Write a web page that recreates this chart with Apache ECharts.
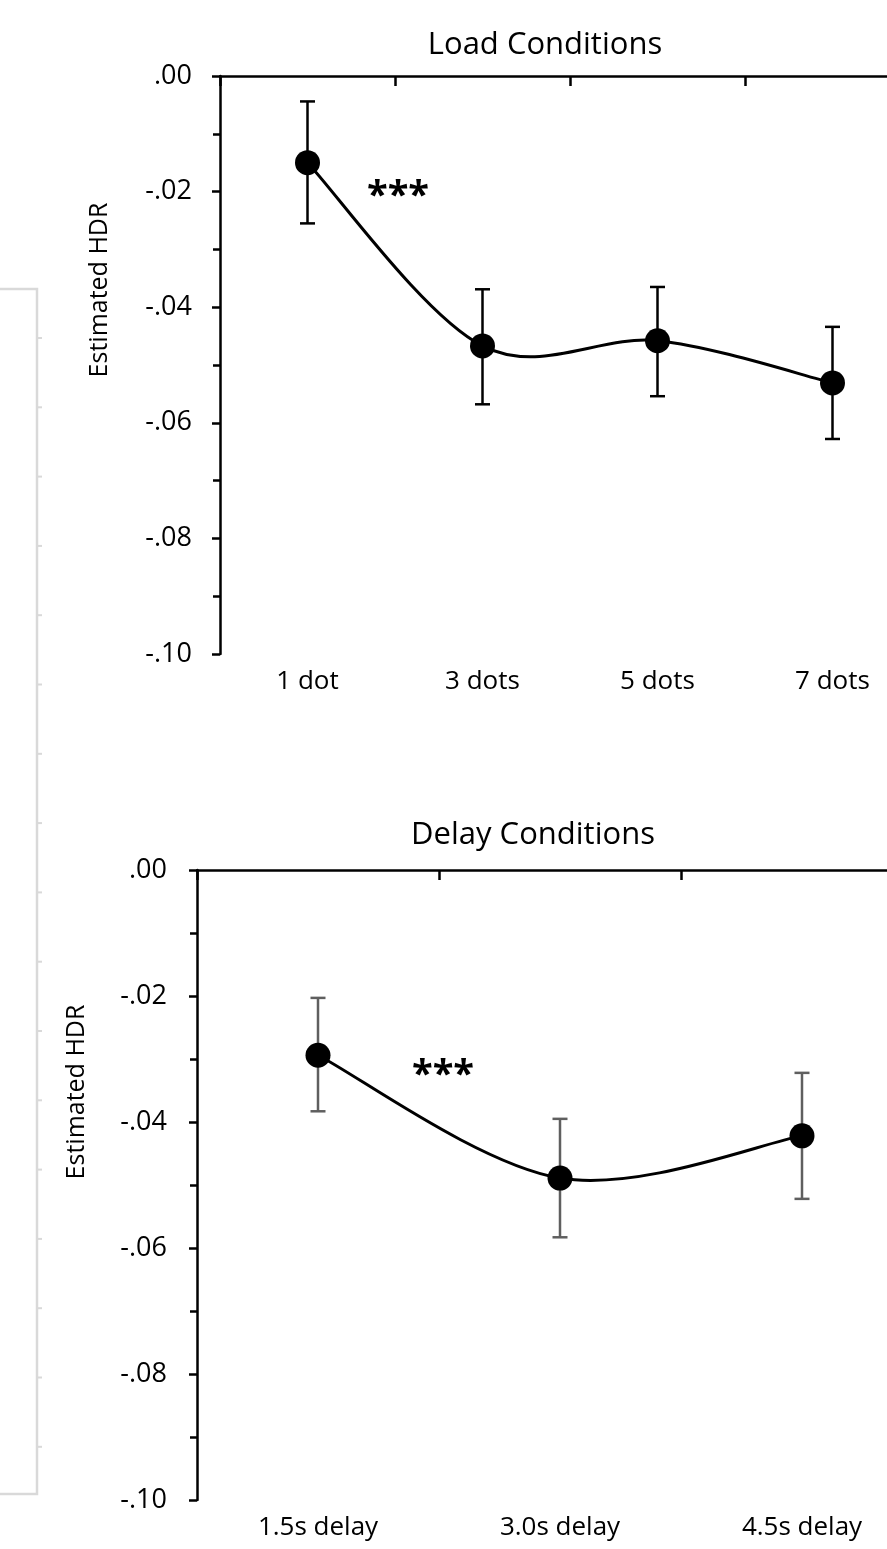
<!DOCTYPE html>
<html>
<head>
<meta charset="utf-8">
<script src="https://cdn.jsdelivr.net/npm/echarts@6/dist/echarts.min.js"></script>
<style>
  html, body { margin: 0; padding: 0; background: #fff; overflow: hidden; }
  #main { width: 960px; height: 1549px; }
</style>
</head>
<body>
<div id="main"></div>
<script>
var loadCategories = ['1 dot', '3 dots', '5 dots', '7 dots'];
var loadMean = [-0.0150, -0.0467, -0.0458, -0.0531];
var loadLow = [-0.0255, -0.0568, -0.0554, -0.0628];
var loadHigh = [-0.0044, -0.0369, -0.0365, -0.0434];

var delayCategories = ['1.5s delay', '3.0s delay', '4.5s delay'];
var delayMean = [-0.0294, -0.0489, -0.0422];
var delayLow = [-0.0383, -0.0583, -0.0522];
var delayHigh = [-0.0203, -0.0395, -0.0322];

var font = '"Open Sans", sans-serif';

function fmtY(v) {
  if (Math.abs(v) < 1e-9) return '.00';
  return '-' + Math.abs(v).toFixed(2).replace(/^0/, '');
}

function errorData(low, high) {
  var out = [];
  for (var i = 0; i < low.length; i++) out.push([i, low[i], high[i]]);
  return out;
}

function makeErrorRender(color) {
  return function (params, api) {
    var i = api.value(0);
    var lo = api.coord([i, api.value(1)]);
    var hi = api.coord([i, api.value(2)]);
    var half = 7.5;
    var style = { stroke: color, lineWidth: 2.5 };
    return {
      type: 'group',
      children: [
        { type: 'line', shape: { x1: hi[0], y1: hi[1], x2: lo[0], y2: lo[1] }, style: style },
        { type: 'line', shape: { x1: hi[0] - half, y1: hi[1], x2: hi[0] + half, y2: hi[1] }, style: style },
        { type: 'line', shape: { x1: lo[0] - half, y1: lo[1], x2: lo[0] + half, y2: lo[1] }, style: style }
      ]
    };
  };
}

// Excel style smoothed line: Catmull-Rom segments turned into cubic beziers
function makeCurveRender(values) {
  return function (params, api) {
    var i = params.dataIndex;
    var n = values.length;
    if (i >= n - 1) return null;
    var p0 = api.coord([Math.max(i - 1, 0), values[Math.max(i - 1, 0)]]);
    var p1 = api.coord([i, values[i]]);
    var p2 = api.coord([i + 1, values[i + 1]]);
    var p3 = api.coord([Math.min(i + 2, n - 1), values[Math.min(i + 2, n - 1)]]);
    return {
      type: 'bezierCurve',
      shape: {
        x1: p1[0], y1: p1[1], x2: p2[0], y2: p2[1],
        cpx1: p1[0] + (p2[0] - p0[0]) / 6, cpy1: p1[1] + (p2[1] - p0[1]) / 6,
        cpx2: p2[0] - (p3[0] - p1[0]) / 6, cpy2: p2[1] - (p3[1] - p1[1]) / 6
      },
      style: { stroke: '#000', lineWidth: 3, fill: null }
    };
  };
}

function topAxis(cats, gridIndex) {
  return {
    type: 'category', gridIndex: gridIndex, position: 'top', data: cats,
    axisLine: { lineStyle: { color: '#000', width: 2.5 } },
    axisTick: { show: true, inside: true, length: 10, lineStyle: { color: '#000', width: 2.5 } },
    axisLabel: { show: false },
    splitLine: { show: false }
  };
}

function bottomAxis(cats, gridIndex, margin) {
  return {
    type: 'category', gridIndex: gridIndex, position: 'bottom', data: cats,
    axisLine: { show: false },
    axisTick: { show: false },
    axisLabel: { margin: margin, color: '#000', fontSize: 26, fontFamily: font },
    splitLine: { show: false }
  };
}

function valueAxis(gridIndex, margin) {
  return {
    type: 'value', gridIndex: gridIndex, min: -0.1, max: 0, interval: 0.02,
    axisLine: { show: true, lineStyle: { color: '#000', width: 2.5 } },
    axisTick: { show: true, length: 8, lineStyle: { color: '#000', width: 2.5 } },
    minorTick: { show: true, splitNumber: 2, length: 7, lineStyle: { color: '#000', width: 2.5 } },
    axisLabel: { margin: margin, color: '#000', fontSize: 27, fontFamily: font, formatter: fmtY },
    splitLine: { show: false }
  };
}

function seriesSet(xIdx, yIdx, cats, mean, low, high, barColor) {
  var idx = cats.map(function (c, i) { return i; });
  return [
    {
      type: 'custom', xAxisIndex: xIdx, yAxisIndex: yIdx,
      renderItem: makeErrorRender(barColor),
      encode: { x: 0, y: [1, 2] },
      data: errorData(low, high), z: 2
    },
    {
      type: 'custom', xAxisIndex: xIdx, yAxisIndex: yIdx,
      renderItem: makeCurveRender(mean),
      encode: { x: 0, y: 1 },
      data: idx.map(function (i) { return [i, mean[i]]; }), z: 3
    },
    {
      type: 'scatter', xAxisIndex: xIdx, yAxisIndex: yIdx,
      data: mean, symbol: 'circle', symbolSize: 25,
      itemStyle: { color: '#000', opacity: 1 }, z: 4
    }
  ];
}

// light grey frame of the neighbouring panel on the left
var graphics = [{
  type: 'polyline', silent: true,
  shape: { points: [[0, 289], [37, 289], [37, 1494], [0, 1494]] },
  style: { stroke: '#d9d9d9', lineWidth: 2.5, fill: null }
}];
for (var k = 0; k < 17; k++) {
  var ty = 338 + k * 69.3;
  graphics.push({
    type: 'line', silent: true,
    shape: { x1: 37, y1: ty, x2: 42, y2: ty },
    style: { stroke: '#d9d9d9', lineWidth: 2 }
  });
}

var nameStyle = { text: 'Estimated HDR', fontFamily: font, fontSize: 25, fill: '#000', align: 'center', verticalAlign: 'middle' };
var starStyle = { text: '***', fontFamily: font, fontSize: 38, fontWeight: 'bold', fill: '#000', align: 'center', verticalAlign: 'middle' };

graphics.push(
  { type: 'text', silent: true, x: 100, y: 290, rotation: Math.PI / 2, style: nameStyle },
  { type: 'text', silent: true, x: 77, y: 1092, rotation: Math.PI / 2, style: nameStyle },
  { type: 'text', silent: true, x: 398, y: 197, style: starStyle },
  { type: 'text', silent: true, x: 443, y: 1076, style: starStyle }
);

var chart = echarts.init(document.getElementById('main'));

var option = {
  backgroundColor: '#fff',
  animation: false,
  title: [
    { text: 'Load Conditions', left: 540, top: 25, textAlign: 'center',
      textStyle: { fontFamily: font, fontSize: 31, fontWeight: 'normal', color: '#000' } },
    { text: 'Delay Conditions', left: 528, top: 815, textAlign: 'center',
      textStyle: { fontFamily: font, fontSize: 31, fontWeight: 'normal', color: '#000' } }
  ],
  grid: [
    { left: 220, top: 76, width: 700, height: 578 },
    { left: 197, top: 870, width: 726, height: 630 }
  ],
  xAxis: [
    topAxis(loadCategories, 0),
    bottomAxis(loadCategories, 0, 15),
    topAxis(delayCategories, 1),
    bottomAxis(delayCategories, 1, 15)
  ],
  yAxis: [
    valueAxis(0, 28),
    valueAxis(1, 30)
  ],
  series: seriesSet(0, 0, loadCategories, loadMean, loadLow, loadHigh, '#000')
    .concat(seriesSet(2, 1, delayCategories, delayMean, delayLow, delayHigh, '#5f5f5f')),
  graphic: graphics
};

chart.setOption(option);
</script>
</body>
</html>
